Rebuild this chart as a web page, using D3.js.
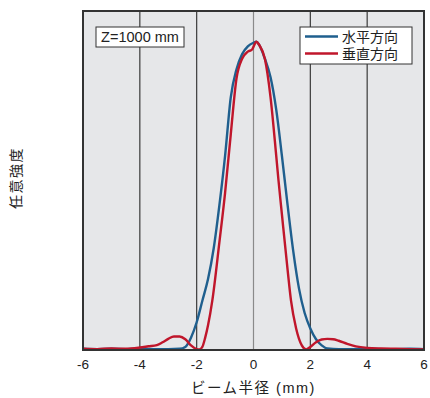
<!DOCTYPE html>
<html>
<head>
<meta charset="utf-8">
<script src="https://d3js.org/d3.v7.min.js"></script>
<style>
  body { margin: 0; background: #fff; }
  text { font-family: "Liberation Sans", Arial, "Noto Sans CJK JP", sans-serif; fill: #222; }
  .jp { font-family: "Liberation Sans", "Noto Sans CJK JP", sans-serif; }
</style>
</head>
<body>
<script>
// x positions (mm) and intensities
const xH = [-6, -5.5, -5, -4.5, -4, -3.5, -3, -2.6, -2.4, -2.2, -2.0, -1.8, -1.6, -1.4, -1.2, -1.0, -0.8, -0.6, -0.4, -0.2, 0, 0.1, 0.2, 0.4, 0.6, 0.8, 1.0, 1.2, 1.4, 1.6, 1.8, 2.0, 2.2, 2.4, 2.6, 3, 3.5, 4, 4.5, 5, 5.5, 6];
const horizontal = [0.004, 0.003, 0.004, 0.003, 0.004, 0.003, 0.003, 0.004, 0.01, 0.04, 0.09, 0.16, 0.23, 0.33, 0.47, 0.63, 0.82, 0.91, 0.96, 0.985, 0.997, 1.0, 0.99, 0.945, 0.885, 0.78, 0.63, 0.47, 0.32, 0.2, 0.12, 0.07, 0.035, 0.015, 0.005, 0.003, 0.003, 0.004, 0.003, 0.003, 0.004, 0.003];

const xV = [-6, -5.5, -5, -4.5, -4, -3.7, -3.4, -3.2, -3.0, -2.8, -2.6, -2.4, -2.2, -2.0, -1.9, -1.8, -1.7, -1.6, -1.45, -1.2, -1.0, -0.8, -0.6, -0.4, -0.2, -0.05, 0.1, 0.2, 0.4, 0.6, 0.8, 0.88, 1.0, 1.2, 1.32, 1.5, 1.7, 1.85, 2.0, 2.2, 2.4, 2.6, 2.8, 3.0, 3.3, 3.6, 4, 4.5, 5, 5.5, 6];
const vertical = [0.004, 0.003, 0.005, 0.004, 0.008, 0.012, 0.016, 0.025, 0.036, 0.044, 0.044, 0.035, 0.015, 0.003, 0.002, 0.01, 0.04, 0.08, 0.16, 0.35, 0.51, 0.70, 0.88, 0.945, 0.968, 0.975, 1.0, 0.99, 0.945, 0.82, 0.63, 0.55, 0.44, 0.26, 0.16, 0.07, 0.015, 0.002, 0.01, 0.025, 0.034, 0.036, 0.035, 0.03, 0.02, 0.012, 0.007, 0.005, 0.004, 0.003, 0.002];

const xTicks = [-6, -4, -2, 0, 2, 4, 6];
const gridLines = [-4, -2, 0, 2, 4];
const seriesNames = ["水平方向", "垂直方向"];
const seriesColors = ["#1f5f8e", "#c0162b"];

const W = 430, H = 398;
const plot = { left: 83, right: 424, top: 11, bottom: 350 };

const svg = d3.select("body").append("svg")
    .attr("width", W).attr("height", H);

const x = d3.scaleLinear().domain([-6, 6]).range([plot.left, plot.right]);
const y = d3.scaleLinear().domain([0, 1.1]).range([plot.bottom, plot.top]);

// background
svg.append("rect")
    .attr("x", plot.left).attr("y", plot.top)
    .attr("width", plot.right - plot.left).attr("height", plot.bottom - plot.top)
    .attr("fill", "#e6e7e9");

// grid
svg.append("g").selectAll("line")
    .data(gridLines).enter().append("line")
    .attr("x1", d => x(d)).attr("x2", d => x(d))
    .attr("y1", plot.top).attr("y2", plot.bottom)
    .attr("stroke", d => d === 0 ? "#8a8a8a" : "#3a3a3a")
    .attr("stroke-width", 1.2);

// curves
const line = d3.line().curve(d3.curveMonotoneX);
const series = [
    xH.map((v, i) => [x(v), y(horizontal[i])]),
    xV.map((v, i) => [x(v), y(vertical[i])])
];
svg.append("g").selectAll("path")
    .data(series).enter().append("path")
    .attr("d", d => line(d))
    .attr("fill", "none")
    .attr("stroke", (d, i) => seriesColors[i])
    .attr("stroke-width", 2.4)
    .attr("stroke-linejoin", "round");

// frame
svg.append("rect")
    .attr("x", plot.left).attr("y", plot.top)
    .attr("width", plot.right - plot.left).attr("height", plot.bottom - plot.top)
    .attr("fill", "none").attr("stroke", "#333").attr("stroke-width", 2);

// x tick labels
svg.append("g").selectAll("text")
    .data(xTicks).enter().append("text")
    .attr("x", d => x(d)).attr("y", 369)
    .attr("text-anchor", "middle")
    .attr("font-size", 13.5)
    .text(d => d);

// axis titles
svg.append("text").attr("class", "jp")
    .attr("x", x(0)).attr("y", 393)
    .attr("text-anchor", "middle").attr("font-size", 14.5)
    .attr("letter-spacing", 1.5)
    .text("ビーム半径 (mm)");

svg.append("text").attr("class", "jp")
    .attr("transform", "translate(21,178) rotate(-90)")
    .attr("text-anchor", "middle").attr("font-size", 14)
    .attr("letter-spacing", 1.5)
    .text("任意強度");

// Z label
svg.append("rect")
    .attr("x", 96).attr("y", 27).attr("width", 88).attr("height", 20)
    .attr("fill", "#fff").attr("stroke", "#333").attr("stroke-width", 1);
svg.append("text")
    .attr("x", 140).attr("y", 42)
    .attr("text-anchor", "middle").attr("font-size", 14.5)
    .text("Z=1000 mm");

// legend
const lg = svg.append("g").attr("transform", "translate(300,27)");
lg.append("rect").attr("width", 112).attr("height", 37)
    .attr("fill", "#fff").attr("stroke", "#333").attr("stroke-width", 1);
const items = lg.selectAll("g.item").data(seriesNames).enter().append("g")
    .attr("transform", (d, i) => "translate(0," + (9.5 + i * 17) + ")");
items.append("line")
    .attr("x1", 5).attr("x2", 38).attr("y1", 0).attr("y2", 0)
    .attr("stroke", (d, i) => seriesColors[i]).attr("stroke-width", 2.4);
items.append("text").attr("class", "jp")
    .attr("x", 42).attr("y", 5)
    .attr("font-size", 14)
    .text(d => d);
</script>
</body>
</html>
